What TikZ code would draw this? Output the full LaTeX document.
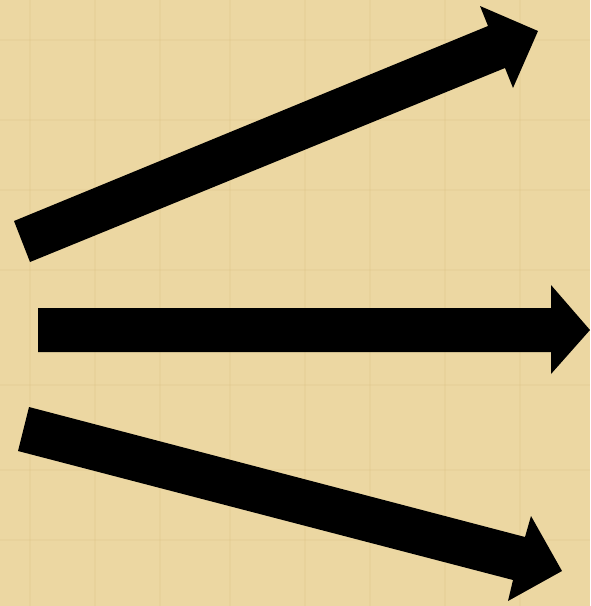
\documentclass[tikz,border=0pt]{standalone}
\usepackage{xcolor}
\usepackage{tikz}
\definecolor{papyrus}{HTML}{ECD7A2}
\definecolor{papyrusdark}{HTML}{D9BE82}

\begin{document}
\begin{tikzpicture}[x=1pt,y=-1pt,
  bigarrow/.style={fill=black}]
\fill[papyrus] (0,0) rectangle (590,606);
\useasboundingbox (0,0) rectangle (590,606);
% faint fibres of the sheet
\foreach \x in {30,95,160,230,305,370,445,520}
  \draw[papyrusdark,opacity=0.2,line width=2] (\x,0)--(\x,606);
\foreach \y in {40,120,190,270,385,470,540}
  \draw[papyrusdark,opacity=0.18,line width=2] (0,\y)--(590,\y);
% upper arrow
\fill[bigarrow] (30,262)--(14,221)--(488,26)--(480,6)--(538,31)--(513,88)--(505,68)--cycle;
% middle arrow
\fill[bigarrow] (38,308)--(551,308)--(551,285)--(590,330)--(551,374)--(551,352)--(38,352)--cycle;
% lower arrow
\fill[bigarrow] (29,407)--(525,537)--(531,516)--(562,571)--(508,601)--(513,580)--(18,451)--cycle;
\end{tikzpicture}
\end{document}
